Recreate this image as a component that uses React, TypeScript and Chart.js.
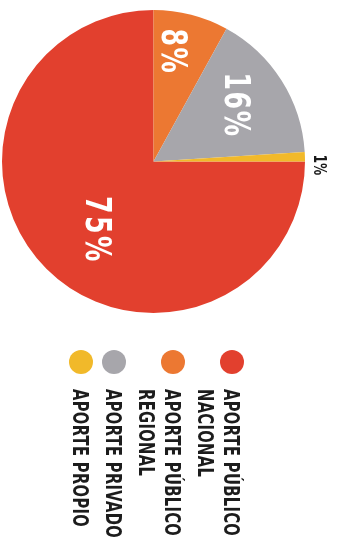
import React, { useEffect, useRef } from "react";
import { Chart, registerables } from "chart.js";
Chart.register(...registerables);

const categories = [
  "APORTE PÚBLICO\nNACIONAL",
  "APORTE PÚBLICO\nREGIONAL",
  "APORTE PRIVADO",
  "APORTE PROPIO",
];
const shares = [75, 8, 16, 1];
const shareLabels = ["75%", "8%", "16%", "1%"];
const colors = ["#e2402e", "#ec7832", "#a7a6ab", "#f1b92a"];

const FONT = '"Liberation Sans Narrow", "DejaVu Sans Condensed", "Roboto", sans-serif';

const rotatedText = (
  ctx: CanvasRenderingContext2D,
  text: string,
  cx: number,
  cy: number,
  size: number,
  color: string,
  align: CanvasTextAlign,
  spacing: number,
  squeeze: number
) => {
  ctx.save();
  ctx.translate(cx, cy);
  ctx.rotate(Math.PI / 2);
  ctx.scale(squeeze, 1);
  ctx.font = `bold ${size}px ${FONT}`;
  (ctx as any).letterSpacing = `${spacing}px`;
  ctx.fillStyle = color;
  ctx.textAlign = align;
  ctx.textBaseline = "alphabetic";
  ctx.fillText(text, 0, size * 0.36);
  ctx.restore();
};

const labelPlugin = {
  id: "rotLabels",
  afterDraw(chart: any) {
    const ctx: CanvasRenderingContext2D = chart.ctx;
    const meta = chart.getDatasetMeta(0);
    const place = [
      { f: 0.58, da: -6, size: 35, color: "#ffffff", sp: 3 },
      { f: 0.74, da: -3.4, size: 35, color: "#ffffff", sp: 2 },
      { f: 0.67, da: -1.4, size: 35, color: "#ffffff", sp: 2 },
      { f: 1.1, da: 3, size: 17, color: "#1a1a1a", sp: 0 },
    ];
    meta.data.forEach((arc: any, i: number) => {
      const p = arc.getProps(["x", "y", "startAngle", "endAngle", "outerRadius"], true);
      const a = (p.startAngle + p.endAngle) / 2 + (place[i].da * Math.PI) / 180;
      const r = p.outerRadius * place[i].f;
      const cx = p.x + r * Math.cos(a);
      const cy = p.y + r * Math.sin(a);
      rotatedText(ctx, shareLabels[i], cx, cy, place[i].size, place[i].color, "center", place[i].sp, 0.8);
    });

    // legend
    const dotY = 362;
    const textY = 389;
    const lineH = 26;
    const gap = 7;
    let x = 232;
    categories.forEach((cat, i) => {
      const lines = cat.split("\n");
      ctx.save();
      ctx.beginPath();
      ctx.arc(x, dotY, 12, 0, Math.PI * 2);
      ctx.fillStyle = colors[i];
      ctx.fill();
      ctx.restore();
      lines.forEach((ln, j) => {
        rotatedText(ctx, ln, x - j * lineH, textY, 21, "#1c1c1c", "left", 0.4, 0.78);
      });
      x -= lines.length * lineH + gap;
    });
  },
};

export default function App() {
  const ref = useRef<HTMLCanvasElement>(null);
  useEffect(() => {
    if (!ref.current) return;
    const chart = new Chart(ref.current, {
      type: "pie",
      data: {
        labels: categories,
        datasets: [
          {
            data: shares,
            backgroundColor: colors,
            borderWidth: 0,
          },
        ],
      },
      options: {
        responsive: false,
        animation: false,
        rotation: 90,
        layout: { padding: { left: 2, right: 39, top: 10, bottom: 233 } },
        plugins: {
          legend: { display: false },
          tooltip: { enabled: false },
        },
      },
      plugins: [labelPlugin],
    });
    return () => chart.destroy();
  }, []);
  return (
    <div style={{ position: "fixed", left: 0, top: 0, width: 344, height: 546, background: "#ffffff" }}>
      <canvas ref={ref} width={344} height={546} style={{ display: "block" }} />
    </div>
  );
}
